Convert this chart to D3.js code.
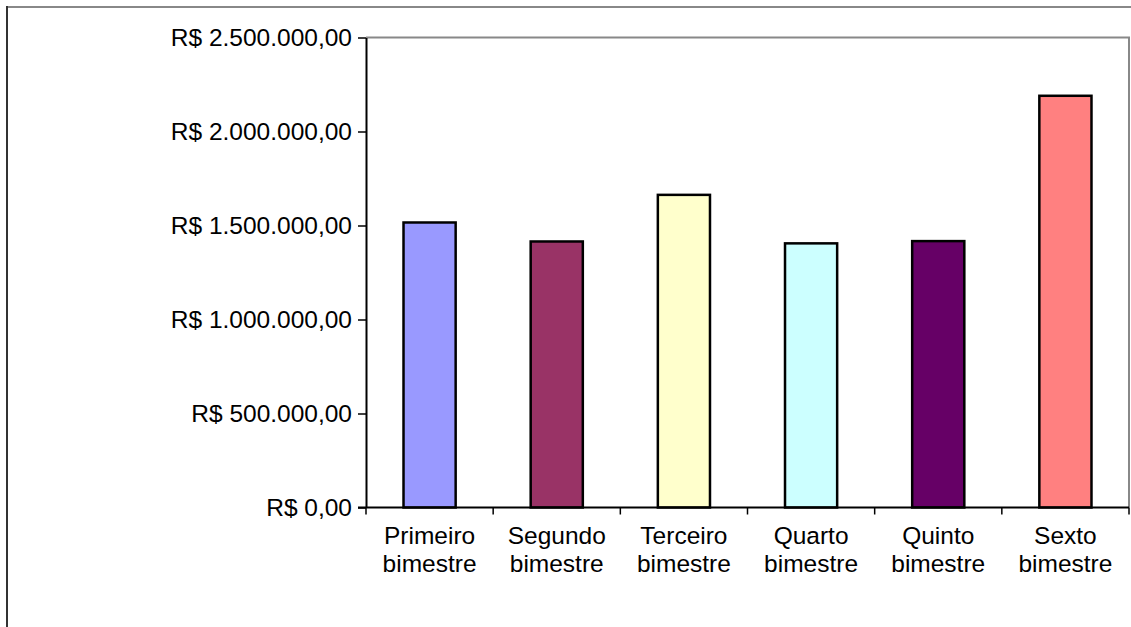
<!DOCTYPE html>
<html>
<head>
<meta charset="utf-8">
<script src="https://cdn.jsdelivr.net/npm/d3@7"></script>
<style>
  body { margin: 0; background: #fff; }
  text { font-family: "Liberation Sans", Arial, sans-serif; fill: #000; }
</style>
</head>
<body>
<div id="container"></div>
<script>
const categories = ["Primeiro bimestre", "Segundo bimestre", "Terceiro bimestre", "Quarto bimestre", "Quinto bimestre", "Sexto bimestre"];
const values = [1516000, 1415000, 1663000, 1405000, 1417000, 2190000];
const colors = ["#9999FF", "#993366", "#FFFFCC", "#CCFFFF", "#660066", "#FF8080"];
const yTicks = [0, 500000, 1000000, 1500000, 2000000, 2500000];

const w = 1131;
const h = 627;
const plotL = 366, plotR = 1129, plotT = 37.5, plotB = 507.5;
const fontSize = "24.5px";

const svg = d3.select("#container").append("svg")
  .attr("width", w).attr("height", h);

// outer chart frame (only top and left edges fall inside the picture)
svg.append("line").attr("x1", 6).attr("y1", 7).attr("x2", w).attr("y2", 7)
  .attr("stroke", "#888").attr("stroke-width", 2);
svg.append("line").attr("x1", 7).attr("y1", 6).attr("x2", 7).attr("y2", h)
  .attr("stroke", "#333").attr("stroke-width", 2);

const x = d3.scaleBand().domain(categories).range([plotL, plotR]).padding(0);
const y = d3.scaleLinear().domain([0, 2500000]).range([plotB, plotT]);

const br = d3.formatLocale({ decimal: ",", thousands: ".", grouping: [3], currency: ["R$ ", ""] });
const fmt = br.format("$,.2f");

// plot area border (top and right in gray)
svg.append("path")
  .attr("d", `M${plotL},${plotT}H${plotR}V${plotB}`)
  .attr("fill", "none").attr("stroke", "#888").attr("stroke-width", 2);

// bars
const barW = x.bandwidth() * 0.41;
svg.selectAll("rect.bar").data(values).enter().append("rect")
  .attr("class", "bar")
  .attr("x", (d, i) => x(categories[i]) + (x.bandwidth() - barW) / 2)
  .attr("y", d => y(d))
  .attr("width", barW)
  .attr("height", d => y(0) - y(d))
  .attr("fill", (d, i) => colors[i])
  .attr("stroke", "#000").attr("stroke-width", 2.5);

// y axis
const yAxis = d3.axisLeft(y).tickValues(yTicks).tickFormat(fmt).tickSize(8).tickPadding(6).tickSizeOuter(0);
const yg = svg.append("g").attr("transform", `translate(${plotL},0)`).call(yAxis);
yg.select(".domain").attr("stroke", "#000").attr("stroke-width", 2);
yg.selectAll(".tick line").attr("stroke", "#000").attr("stroke-width", 1.5);
yg.selectAll(".tick text").style("font-size", fontSize).attr("fill", "#000")
  .style("font-family", "'Liberation Sans', Arial, sans-serif");

// x axis: line with ticks at category boundaries
svg.append("line").attr("x1", plotL - 8).attr("x2", plotR).attr("y1", plotB).attr("y2", plotB)
  .attr("stroke", "#000").attr("stroke-width", 2);
const bounds = categories.map(c => x(c)).concat([plotR]);
svg.selectAll("line.xt").data(bounds).enter().append("line")
  .attr("class", "xt")
  .attr("x1", d => d).attr("x2", d => d)
  .attr("y1", plotB).attr("y2", plotB + 7)
  .attr("stroke", "#000").attr("stroke-width", 1.5);

// category labels on two lines
const lbl = svg.selectAll("text.cat").data(categories).enter().append("text")
  .attr("class", "cat")
  .attr("text-anchor", "middle")
  .style("font-size", fontSize);
lbl.each(function(d) {
  const parts = d.split(" ");
  const t = d3.select(this);
  parts.forEach((p, k) => {
    t.append("tspan")
      .attr("x", x(d) + x.bandwidth() / 2)
      .attr("y", 543.5 + k * 28)
      .text(p);
  });
});
</script>
</body>
</html>
